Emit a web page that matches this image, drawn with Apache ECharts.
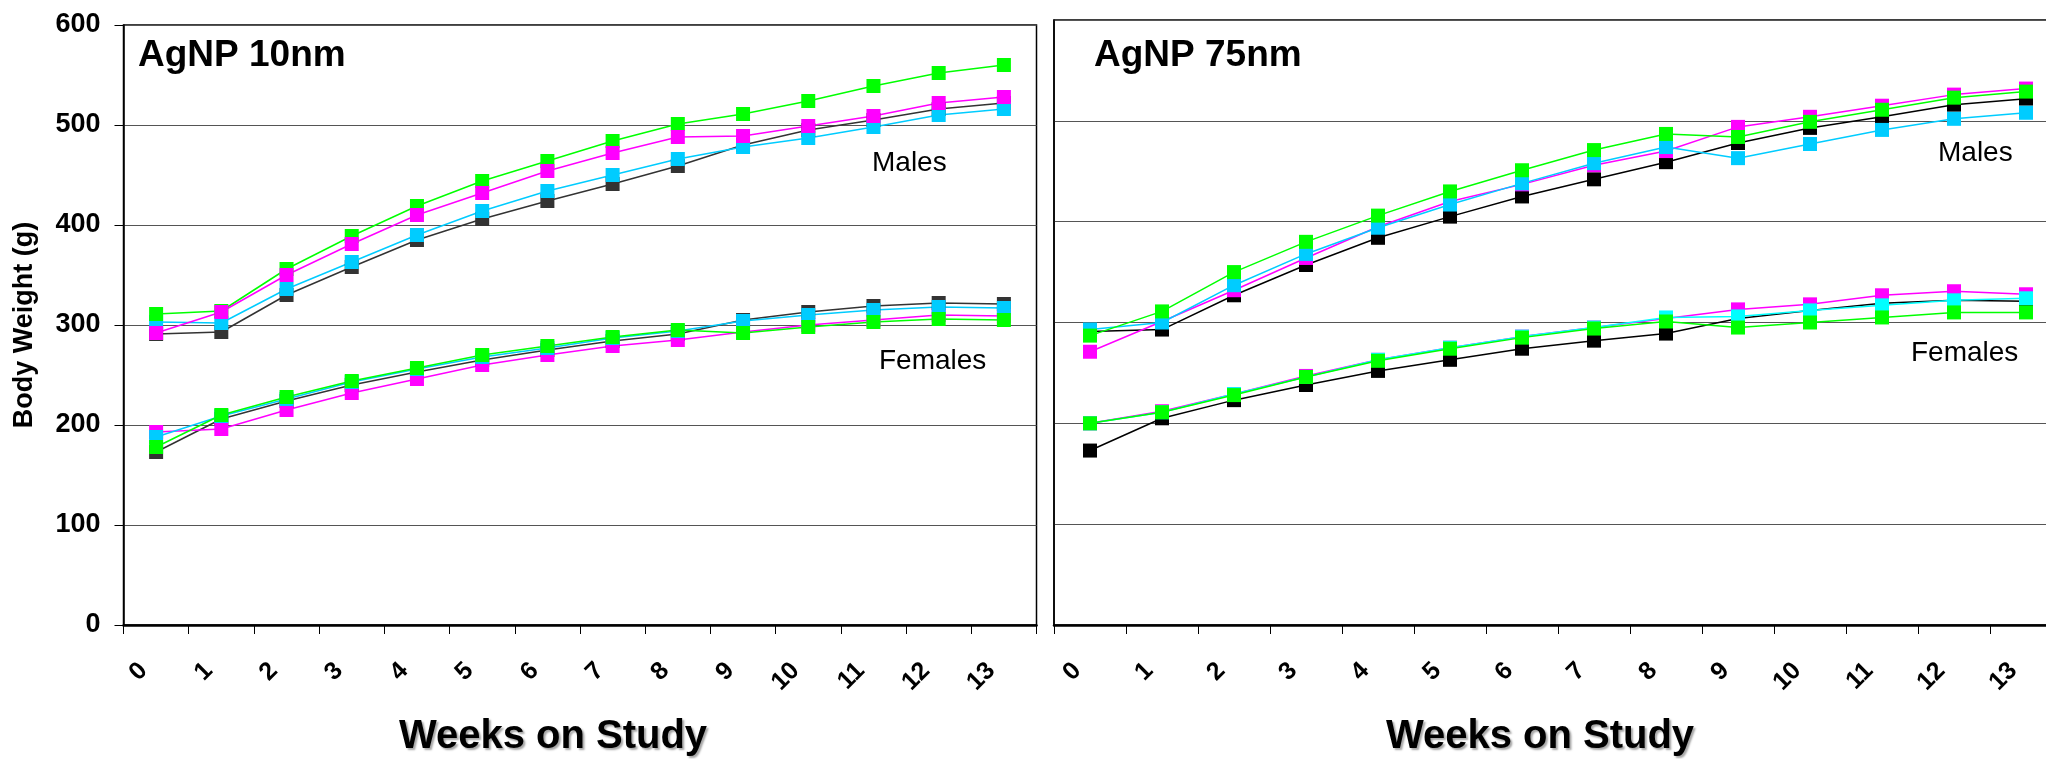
<!DOCTYPE html>
<html>
<head>
<meta charset="utf-8">
<script src="https://cdn.jsdelivr.net/npm/echarts@6/dist/echarts.min.js"></script>
<style>
  html, body { margin: 0; padding: 0; background: #fff; }
  #chart { width: 2046px; height: 759px; }
</style>
</head>
<body>
<div id="chart"></div>
<script>
const weeks = ['0', '1', '2', '3', '4', '5', '6', '7', '8', '9', '10', '11', '12', '13']

// AgNP 10nm - males
const m10Black = [291, 293, 330, 358, 385, 406, 424, 441, 459, 480, 495, 505, 516, 522]
const m10Cyan = [303, 302, 336, 363, 390, 414, 434, 450, 466, 478, 487, 498, 510, 516]
const m10Green = [311, 314, 356, 389, 419, 444, 464, 484, 501, 511, 524, 539, 552, 560]
const m10Magenta = [292, 313, 350, 381, 410, 432, 454, 472, 488, 489, 499, 509, 522, 528]
// AgNP 10nm - females
const f10Black = [173, 206, 224, 240, 253, 265, 275, 284, 291, 305, 313, 319, 322, 321]
const f10Magenta = [193, 196, 215, 232, 246, 260, 270, 279, 285, 293, 300, 305, 310, 309]
const f10Cyan = [188, 209, 226, 243, 256, 268, 277, 287, 294, 304, 310, 315, 318, 317]
const f10Green = [178, 210, 228, 244, 257, 270, 279, 288, 295, 292, 298, 303, 306, 305]

// AgNP 75nm - males
const m75Black = [291, 293, 327, 357, 384, 405, 425, 442, 459, 478, 493, 504, 516, 522]
const m75Magenta = [271, 301, 332, 364, 395, 420, 437, 456, 470, 494, 504, 515, 526, 532]
const m75Cyan = [293, 300, 337, 368, 394, 417, 438, 458, 474, 463, 477, 491, 502, 508]
const m75Green = [287, 311, 350, 380, 406, 430, 451, 471, 487, 484, 499, 511, 523, 529]
// AgNP 75nm - females
const f75Black = [173, 205, 223, 238, 252, 263, 274, 282, 289, 304, 312, 319, 322, 321]
const f75Magenta = [200, 212, 229, 247, 263, 275, 286, 295, 304, 313, 318, 327, 331, 328]
const f75Cyan = [200, 211, 229, 246, 263, 275, 286, 295, 305, 306, 312, 317, 322, 324]
const f75Green = [200, 211, 228, 246, 262, 274, 285, 294, 301, 295, 300, 305, 310, 310]

const font = "'Liberation Sans', Arial, Helvetica, sans-serif"

function line(data, color, idx) {
  return {
    type: 'line',
    xAxisIndex: idx,
    yAxisIndex: idx,
    data: data,
    symbol: 'rect',
    symbolSize: 14,
    itemStyle: { color: color },
    lineStyle: { color: color, width: 1.5 },
    emphasis: { disabled: true },
    animation: false
  }
}

function xAxisFor(idx, namePad) {
  return {
    type: 'category',
    gridIndex: idx,
    data: weeks,
    boundaryGap: true,
    axisLine: { lineStyle: { color: '#000', width: 2.5 } },
    axisTick: { show: true, interval: 0, length: 9, lineStyle: { color: '#000', width: 1 } },
    axisLabel: {
      interval: 0, rotate: 45, margin: 29, padding: [0, 18, 0, 0],
      color: '#000', fontWeight: 'bold', fontSize: 25, fontFamily: font
    },
    name: 'Weeks on Study',
    nameLocation: 'middle',
    nameGap: 92,
    nameTextStyle: {
      color: '#000', fontWeight: 'bold', fontSize: 40, fontFamily: font,
      padding: [0, namePad, 0, 0],
      textShadowColor: 'rgba(0,0,0,0.35)', textShadowBlur: 2,
      textShadowOffsetX: 2, textShadowOffsetY: 2
    }
  }
}

function yAxisFor(idx, showLabels) {
  return {
    type: 'value',
    gridIndex: idx,
    min: 0,
    max: 600,
    interval: 100,
    axisLine: { show: true, lineStyle: { color: '#000', width: 1.5 } },
    axisTick: { show: showLabels, length: 9, lineStyle: { color: '#000', width: 1 } },
    axisLabel: {
      show: showLabels, margin: 23, color: '#000',
      fontWeight: 'bold', fontSize: 27, fontFamily: font
    },
    splitLine: { show: true, lineStyle: { color: '#555', width: 1.2 } },
    name: showLabels ? 'Body Weight (g)' : '',
    nameLocation: 'middle',
    nameGap: 85,
    nameTextStyle: { color: '#000', fontWeight: 'bold', fontSize: 27, fontFamily: font }
  }
}

function label(text, left, top, size, weight) {
  return {
    text: text, left: left, top: top, padding: 0,
    textStyle: { color: '#000', fontSize: size, fontWeight: weight, fontFamily: font }
  }
}

const option = {
  backgroundColor: '#fff',
  animation: false,
  title: [
    label('AgNP 10nm', 138, 37, 37, 'bold'),
    label('AgNP 75nm', 1094, 37, 37, 'bold'),
    label('Males', 872, 149, 28, 'normal'),
    label('Females', 879, 347, 28, 'normal'),
    label('Males', 1938, 139, 28, 'normal'),
    label('Females', 1911, 339, 28, 'normal')
  ],
  grid: [
    { left: 123.5, top: 25, width: 913, height: 600, show: true, borderColor: '#000', borderWidth: 1.5, outerBoundsMode: 'none' },
    { left: 1054, top: 20, width: 1008, height: 605, show: true, borderColor: '#000', borderWidth: 1.5, outerBoundsMode: 'none' }
  ],
  xAxis: [xAxisFor(0, 54), xAxisFor(1, 36)],
  yAxis: [yAxisFor(0, true), yAxisFor(1, false)],
  series: [
    line(m10Black, '#333333', 0),
    line(m10Cyan, '#00CCFF', 0),
    line(m10Green, '#00FF00', 0),
    line(m10Magenta, '#FF00FF', 0),
    line(f10Black, '#333333', 0),
    line(f10Magenta, '#FF00FF', 0),
    line(f10Cyan, '#00CCFF', 0),
    line(f10Green, '#00FF00', 0),

    line(m75Black, '#000000', 1),
    line(m75Magenta, '#FF00FF', 1),
    line(m75Cyan, '#00CCFF', 1),
    line(m75Green, '#00FF00', 1),
    line(f75Black, '#000000', 1),
    line(f75Magenta, '#FF00FF', 1),
    line(f75Cyan, '#00FFFF', 1),
    line(f75Green, '#00FF00', 1)
  ]
}

const chart = echarts.init(document.getElementById('chart'))
chart.setOption(option)
</script>
</body>
</html>
